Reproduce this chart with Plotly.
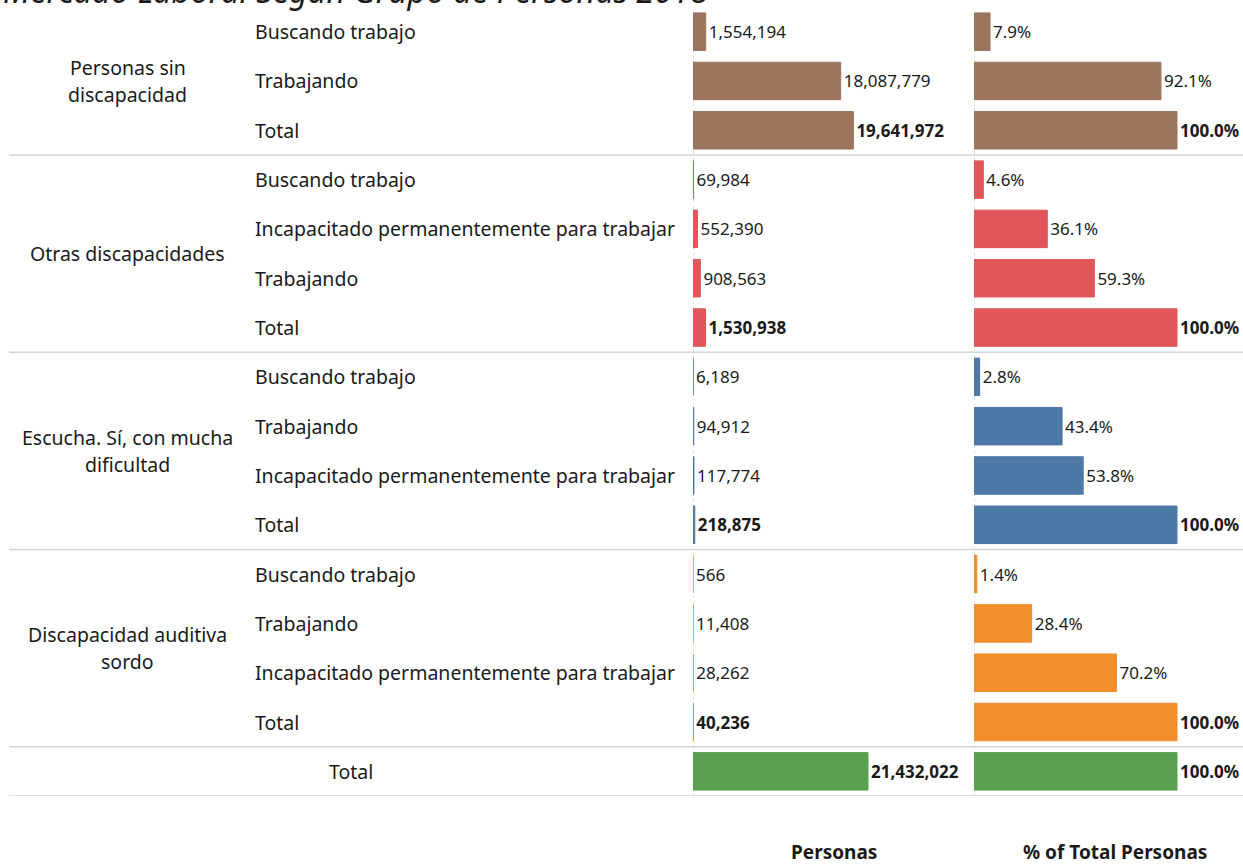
import plotly.graph_objects as go

# ---------------- data ----------------
groups = ["Personas sin discapacidad", "Otras discapacidades",
          "Escucha. Sí, con mucha dificultad", "Discapacidad auditiva sordo", "Total"]
group_lines = [["Personas sin", "discapacidad"], ["Otras discapacidades"],
               ["Escucha. Sí, con mucha", "dificultad"], ["Discapacidad auditiva", "sordo"], ["Total"]]
group_colors = ["#9C755F", "#E15759", "#4E79A7", "#F28E2B", "#59A14F"]

row_group = [0, 0, 0, 1, 1, 1, 1, 2, 2, 2, 2, 3, 3, 3, 3, 4]
row_labels = ["Buscando trabajo", "Trabajando", "Total",
              "Buscando trabajo", "Incapacitado permanentemente para trabajar", "Trabajando", "Total",
              "Buscando trabajo", "Trabajando", "Incapacitado permanentemente para trabajar", "Total",
              "Buscando trabajo", "Trabajando", "Incapacitado permanentemente para trabajar", "Total",
              ""]
personas = [1554194, 18087779, 19641972,
            69984, 552390, 908563, 1530938,
            6189, 94912, 117774, 218875,
            566, 11408, 28262, 40236,
            21432022]
pct_total = [7.9, 92.1, 100.0,
             4.6, 36.1, 59.3, 100.0,
             2.8, 43.4, 53.8, 100.0,
             1.4, 28.4, 70.2, 100.0,
             100.0]
is_total = [False, False, True,
            False, False, False, True,
            False, False, False, True,
            False, False, False, True,
            True]
title_text = "Mercado Laboral Según Grupo de Personas 2018"
col_titles = ["Personas", "% of Total Personas"]

# ---------------- figure ----------------
W, H = 1243, 866
TOP, BOT = 7, 796
FONT = "Noto Sans"
TXT = "#1a1a1a"
n = len(personas)
rows = list(range(n))
colors = [group_colors[g] for g in row_group]


def px_x(p):
    return p / W


def bold(s, b):
    return f"<b>{s}</b>" if b else s


txt1 = [bold(f"{v:,}", t) for v, t in zip(personas, is_total)]
txt2 = [bold(f"{v:.1f}%", t) for v, t in zip(pct_total, is_total)]

fig = go.Figure()
fig.add_trace(go.Bar(
    x=personas, y=rows, orientation="h",
    marker=dict(color=colors, line=dict(width=1, color=colors)),
    width=0.76, text=txt1, textposition="outside", cliponaxis=False,
    textfont=dict(family=FONT, size=17, color=TXT),
    xaxis="x", yaxis="y", hoverinfo="skip", showlegend=False))
fig.add_trace(go.Bar(
    x=[v / 100 for v in pct_total], y=rows, orientation="h",
    marker=dict(color=colors, line=dict(width=1, color=colors)),
    width=0.76, text=txt2, textposition="outside", cliponaxis=False,
    textfont=dict(family=FONT, size=17, color=TXT),
    xaxis="x2", yaxis="y", hoverinfo="skip", showlegend=False))

x1_dom = [px_x(693), px_x(968)]
x2_dom = [px_x(974), 1.0]
scale1 = 21432022 * (968 - 693) / (868 - 693)
scale2 = 1.0 * (W - 974) / (1177 - 974)

axis_common = dict(showticklabels=False, showgrid=False, zeroline=False, showline=False, ticks="")
fig.update_layout(
    width=W, height=H,
    margin=dict(l=0, r=0, t=TOP, b=H - BOT, pad=0),
    paper_bgcolor="white", plot_bgcolor="white",
    font=dict(family=FONT, color=TXT),
    xaxis=dict(domain=x1_dom, range=[0, scale1], anchor="y", **axis_common),
    xaxis2=dict(domain=x2_dom, range=[0, scale2], anchor="y", **axis_common),
    yaxis=dict(range=[n - 0.5, -0.5], domain=[0, 1], **axis_common),
)

annotations = []
shapes = []
LBL = 19.5
# row labels
for r, lab in enumerate(row_labels):
    if lab:
        annotations.append(dict(text=lab, x=px_x(253), xref="paper", y=r, yref="y",
                                xanchor="left", yanchor="middle", showarrow=False,
                                font=dict(family=FONT, size=LBL, color=TXT)))
# group labels
row_h = (BOT - TOP) / n
for g, lines in enumerate(group_lines):
    idx = [r for r in rows if row_group[r] == g]
    yc = (idx[0] + idx[-1]) / 2
    xc = 128 if g < 4 else 351
    off = 13.5 / row_h
    for k, line in enumerate(lines):
        dy = (k - (len(lines) - 1) / 2) * 2 * off
        annotations.append(dict(text=line, x=px_x(xc), xref="paper", y=yc + dy, yref="y",
                                xanchor="center", yanchor="middle", showarrow=False,
                                font=dict(family=FONT, size=LBL, color=TXT)))
    # separator line below group
    shapes.append(dict(type="line", xref="paper", yref="y", x0=px_x(9), x1=1.0,
                       y0=idx[-1] + 0.5, y1=idx[-1] + 0.5,
                       line=dict(color="#d4d4d4", width=1.5)))

# zero reference dotted lines
for ax in ["x", "x2"]:
    shapes.append(dict(type="line", xref=ax, yref="paper", x0=0, x1=0, y0=0, y1=0.99,
                       line=dict(color="#c8c8c8", width=1, dash="dot"), layer="below"))

# column titles
for t, xc in zip(col_titles, [834, 1115]):
    annotations.append(dict(text=f"<b>{t}</b>", x=px_x(xc), xref="paper",
                            y=(BOT - 852) / (BOT - TOP), yref="paper",
                            xanchor="center", yanchor="middle", showarrow=False,
                            font=dict(family=FONT, size=19, color=TXT)))

# cut-off title at top
annotations.append(dict(text=f"<i>{title_text}</i>", x=px_x(1), xref="paper",
                        y=1 + (TOP + 10) / (BOT - TOP), yref="paper",
                        xanchor="left", yanchor="middle", showarrow=False,
                        font=dict(family=FONT, size=32.5, color=TXT)))

fig.update_layout(annotations=annotations, shapes=shapes)
fig.write_html("out.html", config={"displayModeBar": False},
               post_script="document.body.style.margin='0';")
